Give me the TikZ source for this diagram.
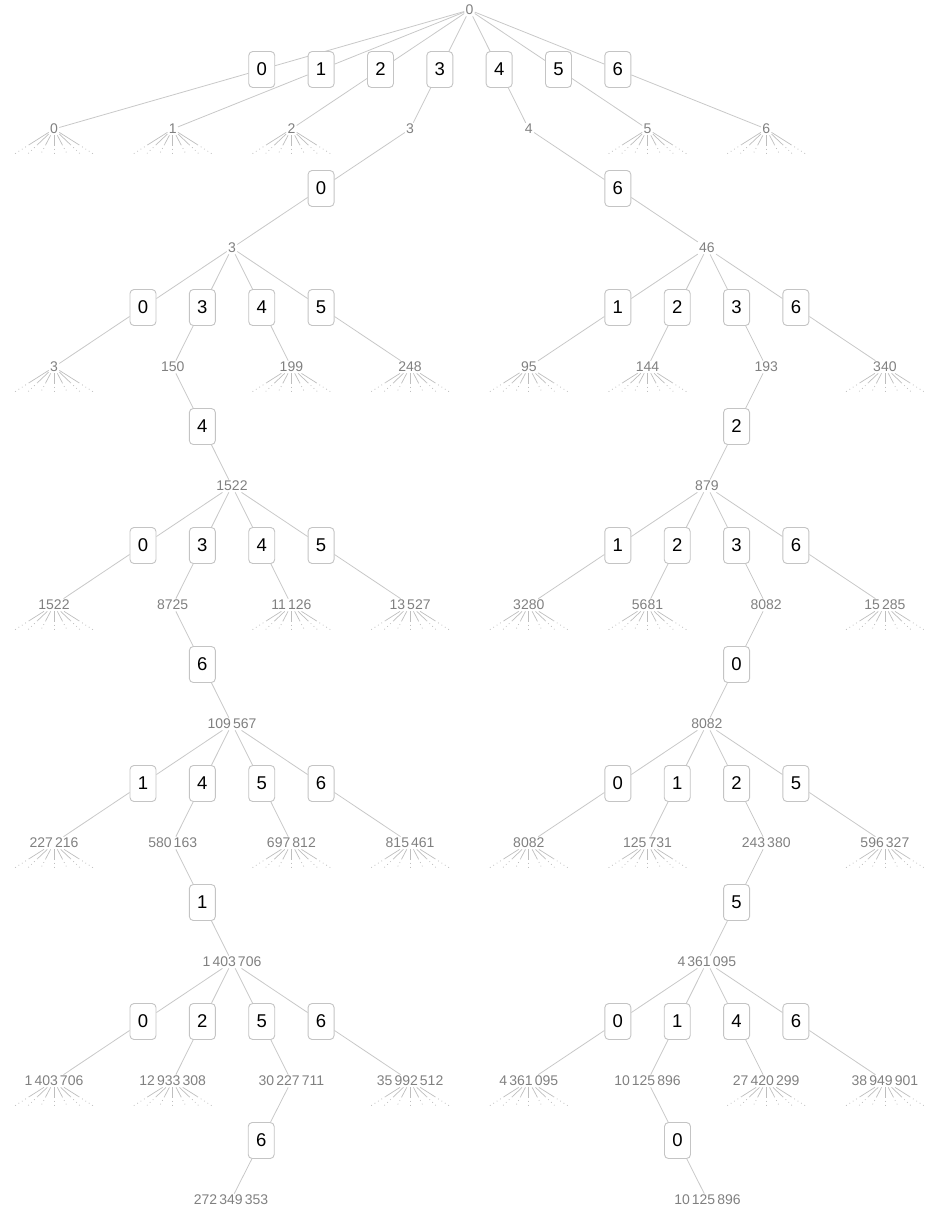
\documentclass[tikz,border=0pt]{standalone}
\usepackage{fontspec}
\setmainfont{Liberation Sans}
\usetikzlibrary{calc}
\definecolor{numgray}{HTML}{808080}
\definecolor{edgegray}{HTML}{C8C8C8}
\definecolor{boxgray}{HTML}{C4C4C4}
\definecolor{fangray}{HTML}{BEBEBE}
\newcommand\ts{\kern0.15em}
\tikzset{
  num/.style={font=\fontsize{14}{16}\selectfont, text=numgray, inner sep=1.2pt},
  box/.style={draw=boxgray, rounded corners=4pt, fill=white, minimum width=26pt,
    minimum height=36pt, inner sep=0pt, line width=0.9pt,
    font=\fontsize{18.5}{20}\selectfont, text=black},
  edge/.style={draw=edgegray, line width=0.8pt},
  fansolid/.style={draw=fangray, line width=0.7pt},
  fandot/.style={draw=fangray, line width=0.8pt, dash pattern=on 0.8pt off 3.2pt},
}
\newcommand\fan[1]{%
  \foreach \k in {-3,...,3}{%
    \draw[fansolid] (#1) -- ($(#1)+(\k*13.7*0.6,15.6)$);
    \draw[fandot] ($(#1)+(\k*13.7*0.6,15.6)$) -- ($(#1)+(\k*13.7,26)$);
  }}
\newcommand\branch[3]{%
  \node[box] (#1-#2) at ($(#1)!0.5!(#2)$) {#3};
  \draw[edge] (#1) -- (#1-#2) -- (#2);}
\begin{document}
\begin{tikzpicture}[x=1pt,y=-1pt]
\useasboundingbox (0,0) rectangle (926,1211);
% level 0 and 1
\node[num] (r) at (469.5,10) {0};
\node[num] (a0) at (54,129) {0};
\node[num] (a1) at (172.7,129) {1};
\node[num] (a2) at (291.4,129) {2};
\node[num] (a3) at (410.1,129) {3};
\node[num] (a4) at (528.8,129) {4};
\node[num] (a5) at (647.5,129) {5};
\node[num] (a6) at (766.2,129) {6};
\branch{r}{a0}{0}
\branch{r}{a1}{1}
\branch{r}{a2}{2}
\branch{r}{a3}{3}
\branch{r}{a4}{4}
\branch{r}{a5}{5}
\branch{r}{a6}{6}
\fan{a0}\fan{a1}\fan{a2}\fan{a5}\fan{a6}
% ---------- left subtree ----------
\node[num] (n) at (232,248) {3};
\branch{a3}{n}{0}
\node[num] (c0) at (54,367) {3};
\node[num] (c1) at (172.7,367) {150};
\node[num] (c2) at (291.4,367) {199};
\node[num] (c3) at (410.1,367) {248};
\branch{n}{c0}{0}
\branch{n}{c1}{3}
\branch{n}{c2}{4}
\branch{n}{c3}{5}
\fan{c0}\fan{c2}\fan{c3}
\node[num] (d) at (232,486) {1522};
\branch{c1}{d}{4}
\node[num] (e0) at (54,605) {1522};
\node[num] (e1) at (172.7,605) {8725};
\node[num] (e2) at (291.4,605) {11\ts126};
\node[num] (e3) at (410.1,605) {13\ts527};
\branch{d}{e0}{0}
\branch{d}{e1}{3}
\branch{d}{e2}{4}
\branch{d}{e3}{5}
\fan{e0}\fan{e2}\fan{e3}
\node[num] (f) at (232,724) {109\ts567};
\branch{e1}{f}{6}
\node[num] (g0) at (54,843) {227\ts216};
\node[num] (g1) at (172.7,843) {580\ts163};
\node[num] (g2) at (291.4,843) {697\ts812};
\node[num] (g3) at (410.1,843) {815\ts461};
\branch{f}{g0}{1}
\branch{f}{g1}{4}
\branch{f}{g2}{5}
\branch{f}{g3}{6}
\fan{g0}\fan{g2}\fan{g3}
\node[num] (h) at (232,962) {1\ts403\ts706};
\branch{g1}{h}{1}
\node[num] (i0) at (54,1081) {1\ts403\ts706};
\node[num] (i1) at (172.7,1081) {12\ts933\ts308};
\node[num] (i2) at (291.4,1081) {30\ts227\ts711};
\node[num] (i3) at (410.1,1081) {35\ts992\ts512};
\branch{h}{i0}{0}
\branch{h}{i1}{2}
\branch{h}{i2}{5}
\branch{h}{i3}{6}
\fan{i0}\fan{i1}\fan{i3}
\node[num] (j) at (231,1200) {272\ts349\ts353};
\branch{i2}{j}{6}
% ---------- right subtree ----------
\node[num] (N) at (706.9,248) {46};
\branch{a4}{N}{6}
\node[num] (C0) at (528.8,367) {95};
\node[num] (C1) at (647.5,367) {144};
\node[num] (C2) at (766.2,367) {193};
\node[num] (C3) at (884.9,367) {340};
\branch{N}{C0}{1}
\branch{N}{C1}{2}
\branch{N}{C2}{3}
\branch{N}{C3}{6}
\fan{C0}\fan{C1}\fan{C3}
\node[num] (D) at (706.9,486) {879};
\branch{C2}{D}{2}
\node[num] (E0) at (528.8,605) {3280};
\node[num] (E1) at (647.5,605) {5681};
\node[num] (E2) at (766.2,605) {8082};
\node[num] (E3) at (884.9,605) {15\ts285};
\branch{D}{E0}{1}
\branch{D}{E1}{2}
\branch{D}{E2}{3}
\branch{D}{E3}{6}
\fan{E0}\fan{E1}\fan{E3}
\node[num] (F) at (706.9,724) {8082};
\branch{E2}{F}{0}
\node[num] (G0) at (528.8,843) {8082};
\node[num] (G1) at (647.5,843) {125\ts731};
\node[num] (G2) at (766.2,843) {243\ts380};
\node[num] (G3) at (884.9,843) {596\ts327};
\branch{F}{G0}{0}
\branch{F}{G1}{1}
\branch{F}{G2}{2}
\branch{F}{G3}{5}
\fan{G0}\fan{G1}\fan{G3}
\node[num] (H) at (706.9,962) {4\ts361\ts095};
\branch{G2}{H}{5}
\node[num] (I0) at (528.8,1081) {4\ts361\ts095};
\node[num] (I1) at (647.5,1081) {10\ts125\ts896};
\node[num] (I2) at (766.2,1081) {27\ts420\ts299};
\node[num] (I3) at (884.9,1081) {38\ts949\ts901};
\branch{H}{I0}{0}
\branch{H}{I1}{1}
\branch{H}{I2}{4}
\branch{H}{I3}{6}
\fan{I0}\fan{I2}\fan{I3}
\node[num] (J) at (707.5,1200) {10\ts125\ts896};
\branch{I1}{J}{0}
\end{tikzpicture}
\end{document}
